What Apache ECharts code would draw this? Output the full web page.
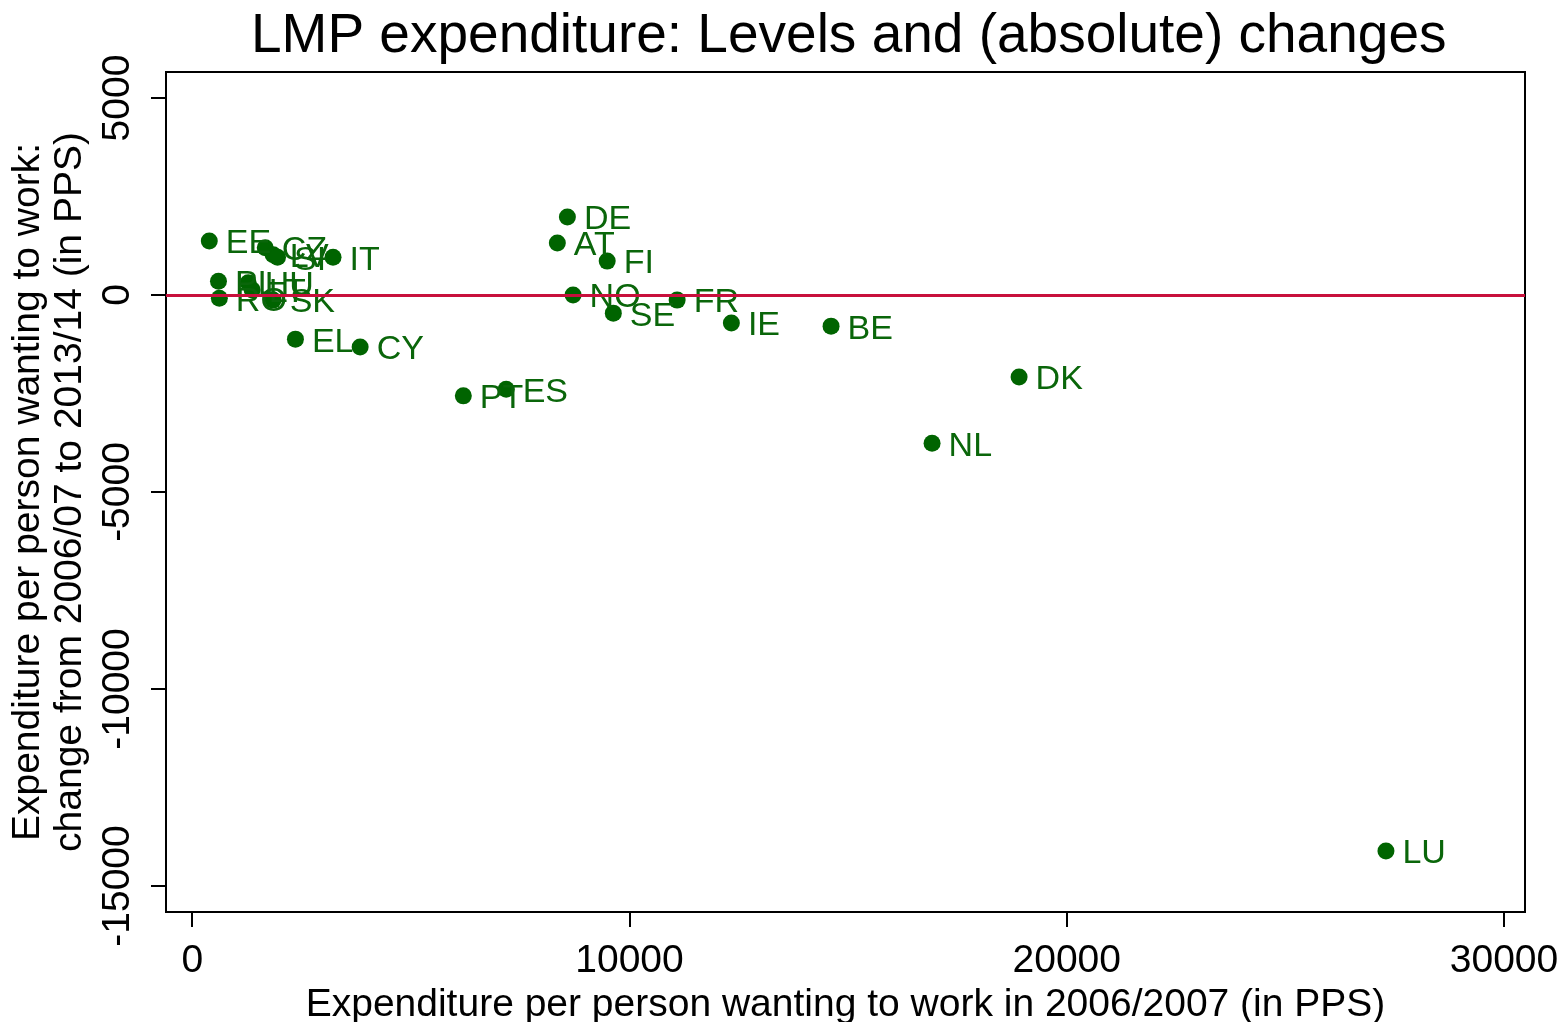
<!DOCTYPE html>
<html>
<head>
<meta charset="utf-8">
<script src="https://cdn.jsdelivr.net/npm/echarts@6/dist/echarts.min.js"></script>
<style>
  html, body { margin: 0; padding: 0; background: #fff; }
  #chart { width: 1564px; height: 1022px; }
</style>
</head>
<body>
<div id="chart"></div>
<script>
// Country codes, spending level in 2006/07 and change to 2013/14 (PPS)
const countries = ['EE', 'CZ', 'LV', 'SI', 'IT', 'PL', 'RO', 'HU', 'LT', 'SK', 'EL', 'CY',
                   'PT', 'ES', 'AT', 'DE', 'NO', 'FI', 'SE', 'FR', 'IE', 'BE', 'NL', 'DK', 'LU'];
const level2006 = [390, 1670, 1850, 1950, 3220, 600, 620, 1280, 1370, 1850, 2360, 3840,
                   6200, 7180, 8350, 8580, 8710, 9490, 9630, 11090, 12330, 14610, 16920, 18910, 27300];
const change = [1370, 1200, 1020, 960, 960, 350, -80, 310, 130, -130, -1120, -1320,
                -2560, -2390, 1320, 1980, 0, 860, -460, -130, -710, -790, -3760, -2080, -14110];

const xTickValues = [0, 10000, 20000, 30000];
const yTickValues = [-15000, -10000, -5000, 0, 5000];
const xRange = [-600, 30480];
const yRange = [-15660, 5660];

const points = countries.map((c, i) => ({ name: c, value: [level2006[i], change[i]] }));

const FONT = 'Liberation Sans';
const chart = echarts.init(document.getElementById('chart'));
chart.setOption({
  animation: false,
  backgroundColor: '#fff',
  title: {
    text: 'LMP expenditure: Levels and (absolute) changes',
    left: 246,
    top: 4,
    textStyle: { fontFamily: FONT, fontSize: 55, fontWeight: 'normal', color: '#000' }
  },
  grid: {
    left: 166, top: 72, right: 39, bottom: 110,
    outerBoundsMode: 'none',
    containLabel: false,
    show: true, borderColor: '#000', borderWidth: 2, backgroundColor: '#fff'
  },
  xAxis: {
    type: 'value',
    min: xRange[0], max: xRange[1],
    axisLabel: {
      fontFamily: FONT, fontSize: 39, color: '#000', margin: 30,
      customValues: xTickValues,
      formatter: v => String(v)
    },
    axisTick: { show: true, length: 15, lineStyle: { color: '#000', width: 2 },
      customValues: xTickValues },
    axisLine: { show: true, onZero: false, lineStyle: { color: '#000', width: 2 } },
    splitLine: { show: false },
    name: 'Expenditure per person wanting to work in 2006/2007 (in PPS)',
    nameLocation: 'middle',
    nameGap: 73,
    nameTextStyle: { fontFamily: FONT, fontSize: 39, color: '#000' }
  },
  yAxis: {
    type: 'value',
    min: yRange[0], max: yRange[1],
    axisLabel: {
      fontFamily: FONT, fontSize: 39, color: '#000', rotate: 90, margin: 28,
      customValues: yTickValues,
      formatter: v => String(v)
    },
    axisTick: { show: true, length: 15, lineStyle: { color: '#000', width: 2 },
      customValues: yTickValues },
    axisLine: { show: true, onZero: false, lineStyle: { color: '#000', width: 2 } },
    splitLine: { show: false },
    name: 'Expenditure per person wanting to work:\nchange from 2006/07 to 2013/14 (in PPS)',
    nameLocation: 'middle',
    nameRotate: 90,
    nameGap: 69,
    nameTextStyle: { fontFamily: FONT, fontSize: 39, color: '#000', lineHeight: 42 }
  },
  series: [{
    type: 'scatter',
    data: points,
    symbol: 'circle',
    symbolSize: 17,
    itemStyle: { color: '#006400', opacity: 1 },
    label: {
      show: true,
      position: 'right',
      distance: 8,
      formatter: '{b}',
      fontFamily: FONT,
      fontSize: 34,
      color: '#0a660a',
      offset: [0, 3]
    },
    markLine: {
      silent: true,
      symbol: 'none',
      label: { show: false },
      lineStyle: { color: '#c8103c', width: 3, type: 'solid' },
      data: [{ yAxis: 0 }]
    },
    z: 3
  }]
});
</script>
</body>
</html>
